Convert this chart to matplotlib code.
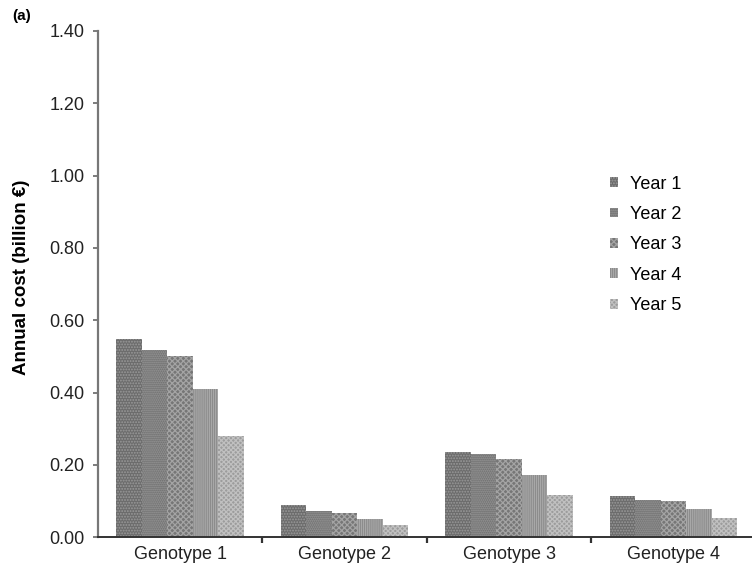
import matplotlib
matplotlib.use("Agg")
import matplotlib.pyplot as plt
import numpy as np

plt.rcParams['font.family'] = ['Liberation Sans', 'DejaVu Sans']
plt.rcParams['hatch.linewidth'] = 0.9

genotypes = ["Genotype 1", "Genotype 2", "Genotype 3", "Genotype 4"]
years = ["Year 1", "Year 2", "Year 3", "Year 4", "Year 5"]
year1 = [0.549, 0.089, 0.235, 0.113]
year2 = [0.517, 0.074, 0.230, 0.102]
year3 = [0.500, 0.066, 0.217, 0.099]
year4 = [0.410, 0.050, 0.172, 0.078]
year5 = [0.281, 0.034, 0.118, 0.053]
series = [year1, year2, year3, year4, year5]
yticks = [0.0, 0.2, 0.4, 0.6, 0.8, 1.0, 1.2, 1.4]

faces = ["#6c6c6c", "#707070", "#767676", "#878787", "#9c9c9c"]
hatch_cols = ["#9a9a9a", "#9c9c9c", "#a4a4a4", "#a8a8a8", "#c0c0c0"]
hatches = ["......", "........", "xxxxxx", "||||||||", "xxxxxxx"]

fig = plt.figure(figsize=(7.52, 5.71), dpi=100)
ax = fig.add_axes([0.130, 0.059, 0.875, 0.887])

x = np.arange(len(genotypes))
w = 0.155
for i, (vals, lab) in enumerate(zip(series, years)):
    ax.bar(x + (i - 2) * w, vals, width=w, color=faces[i], edgecolor=hatch_cols[i],
           linewidth=0, hatch=hatches[i], label=lab)

ax.set_xlim(-0.5, len(genotypes) - 0.5)
ax.set_ylim(0, 1.4)
ax.set_yticks(yticks)
ax.set_yticklabels([f"{v:.2f}" for v in yticks], fontsize=13, color="#222222")
ax.set_xticks(x)
ax.set_xticklabels(genotypes, fontsize=13, color="#222222")
ax.set_xticks(np.arange(0.5, len(genotypes) - 0.5, 1.0), minor=True)
ax.tick_params(axis='x', which='major', length=0, pad=6)
ax.tick_params(axis='x', which='minor', length=4.5, width=1.6, color="#333333", direction='out')
ax.tick_params(axis='y', length=3.5, width=1.2, color="#666666", direction='out', pad=6)

for s in ("top", "right"):
    ax.spines[s].set_visible(False)
ax.spines["left"].set_color("#777777")
ax.spines["left"].set_linewidth(1.6)
ax.spines["bottom"].set_color("#333333")
ax.spines["bottom"].set_linewidth(1.4)

fig.text(22 / 752, 1 - 277 / 571, "Annual cost (billion €)", fontsize=13.5,
         fontweight="bold", rotation=90, ha="center", va="center")

ax.legend(loc="upper left", bbox_to_anchor=(0.778, 0.714), frameon=False,
          fontsize=13, handlelength=0.45, handleheight=0.45, borderpad=0,
          borderaxespad=0, handletextpad=0.65, labelspacing=0.74)

fig.text(0.016, 0.972, "(a)", fontsize=11, fontweight="bold", ha="left", va="center")

fig.savefig("out.png", dpi=100, facecolor="white")
